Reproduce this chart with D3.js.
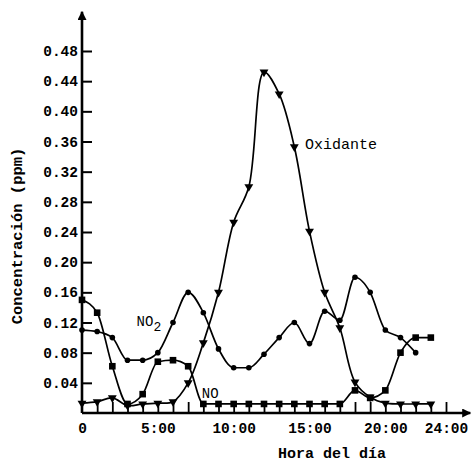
<!DOCTYPE html>
<html><head><meta charset="utf-8">
<script src="https://cdn.jsdelivr.net/npm/d3@7"></script>
<style>
body{margin:0;background:#fff;}
svg{display:block;}
text{font-family:"Liberation Mono","DejaVu Sans Mono",monospace;fill:#000;}
</style></head>
<body>
<svg id="c" width="472" height="464"></svg>
<script>
// ---- data ----
const no2Hours = [0,1,2,3,4,5,6,7,8,9,10,11,12,13,14,15,16,17,18,19,20,21,22];
const no2Vals  = [0.11,0.108,0.10,0.07,0.07,0.08,0.12,0.16,0.133,0.085,0.06,0.06,0.078,0.10,0.12,0.092,0.135,0.123,0.18,0.16,0.11,0.10,0.08];
const noHours  = [0,1,2,3,4,5,6,7,8,9,10,11,12,13,14,15,16,17,18,19,20,21,22,23];
const noVals   = [0.15,0.133,0.062,0.012,0.025,0.068,0.07,0.062,0.012,0.012,0.012,0.012,0.012,0.012,0.012,0.012,0.012,0.012,0.03,0.02,0.03,0.08,0.10,0.10];
const oxHours  = [0,1,2,3,4,5,6,7,8,9,10,11,12,13,14,15,16,17,18,19,20,21,22,23];
const oxVals   = [0.013,0.015,0.02,0.01,0.012,0.013,0.015,0.04,0.093,0.16,0.253,0.30,0.452,0.423,0.353,0.241,0.16,0.113,0.041,0.021,0.013,0.012,0.012,0.012];
const yTicks   = [0.04,0.08,0.12,0.16,0.20,0.24,0.28,0.32,0.36,0.40,0.44,0.48];
const xTickHours = [1,2,3,4,5,6,7,8,9,10,11,12,13,14,15,16,17,18,19,20,21,22,23,24];
const xLabelHours = [0,5,10,15,20,24];
const xLabelText  = ["0","5:00","10:00","15:00","20:00","24:00"];

const svg = d3.select("#c");
const x = d3.scaleLinear().domain([0,24]).range([82,446]);
const y = d3.scaleLinear().domain([0,0.48]).range([413,51]);

// axes lines with arrows
const defs = svg.append("defs");
defs.append("marker").attr("id","arr").attr("viewBox","0 0 10 10").attr("refX",9).attr("refY",5)
  .attr("markerWidth",13).attr("markerHeight",9).attr("markerUnits","userSpaceOnUse").attr("orient","auto")
  .append("path").attr("d","M0,0 L10,5 L0,10 Z");

svg.append("line").attr("x1",x(0)).attr("y1",y(0)).attr("x2",x(0)).attr("y2",y(0.532))
  .attr("stroke","#000").attr("stroke-width",2.6).attr("marker-end","url(#arr)");
svg.append("line").attr("x1",x(0)).attr("y1",y(0)).attr("x2",x(25.6)).attr("y2",y(0))
  .attr("stroke","#000").attr("stroke-width",2.6).attr("marker-end","url(#arr)");

// y axis ticks (to the right) and labels
const yAxis = d3.axisLeft(y).tickValues(yTicks).tickFormat(d3.format(".2f"))
  .tickSizeInner(-10).tickSizeOuter(0).tickPadding(4);
const gy = svg.append("g").attr("transform",`translate(${x(0)},0)`).call(yAxis);
gy.select(".domain").remove();
gy.selectAll(".tick line").attr("stroke","#000").attr("stroke-width",2);
gy.selectAll(".tick text").attr("font-size",14.5).attr("font-weight","bold").attr("fill","#000");

// x axis hourly ticks upward
const xAxisT = d3.axisBottom(x).tickValues(xTickHours).tickFormat("").tickSizeInner(-11).tickSizeOuter(0);
const gx = svg.append("g").attr("transform",`translate(0,${y(0)})`).call(xAxisT);
gx.select(".domain").remove();
gx.selectAll(".tick line").attr("stroke","#000").attr("stroke-width",1.8);

// x labels
const xAxisL = d3.axisBottom(x).tickValues(xLabelHours).tickFormat((d,i)=>xLabelText[i]).tickSize(0).tickPadding(10);
const gxl = svg.append("g").attr("transform",`translate(0,${y(0)})`).call(xAxisL);
gxl.select(".domain").remove();
gxl.selectAll(".tick text").attr("font-size",14.5).attr("font-weight","bold").attr("fill","#000");

// axis titles
svg.append("text").attr("transform",`translate(22,236) rotate(-90)`).attr("text-anchor","middle")
  .attr("font-size",15.5).attr("font-weight","bold").text("Concentración (ppm)");
svg.append("text").attr("x",332).attr("y",458).attr("text-anchor","middle")
  .attr("font-size",15).attr("font-weight","bold").text("Hora del día");

// lines
const lineM = d3.line().curve(d3.curveMonotoneX);
const lineC = d3.line().curve(d3.curveCatmullRom.alpha(0.5));
function drawSeries(hours, vals, gen){
  svg.append("path").attr("d", gen(hours.map((h,i)=>[x(h),y(vals[i])])))
    .attr("fill","none").attr("stroke","#000").attr("stroke-width",1.7);
}
drawSeries(no2Hours,no2Vals,lineM);
drawSeries(noHours,noVals,lineM);
drawSeries(oxHours,oxVals,lineC);

// markers
svg.append("g").selectAll("circle").data(no2Hours).join("circle")
  .attr("cx",d=>x(d)).attr("cy",(d,i)=>y(no2Vals[i])).attr("r",2.8).attr("fill","#000");
svg.append("g").selectAll("rect").data(noHours).join("rect")
  .attr("x",d=>x(d)-3.3).attr("y",(d,i)=>y(noVals[i])-3.3).attr("width",6.6).attr("height",6.6).attr("fill","#000");
const tri = d3.symbol().type(d3.symbolTriangle).size(34);
svg.append("g").selectAll("path").data(oxHours).join("path")
  .attr("d",tri).attr("transform",(d,i)=>`translate(${x(d)},${y(oxVals[i])}) rotate(180)`).attr("fill","#000");

// annotations
svg.append("text").attr("x",x(14.7)).attr("y",y(0.35)).attr("font-size",15).text("Oxidante");
const t = svg.append("text").attr("x",x(3.6)).attr("y",y(0.115)).attr("font-size",14);
t.append("tspan").text("NO");
t.append("tspan").attr("dy",5).attr("font-size",13).text("2");
svg.append("text").attr("x",x(7.9)).attr("y",y(0.02)).attr("font-size",14).text("NO");
</script>
</body></html>
